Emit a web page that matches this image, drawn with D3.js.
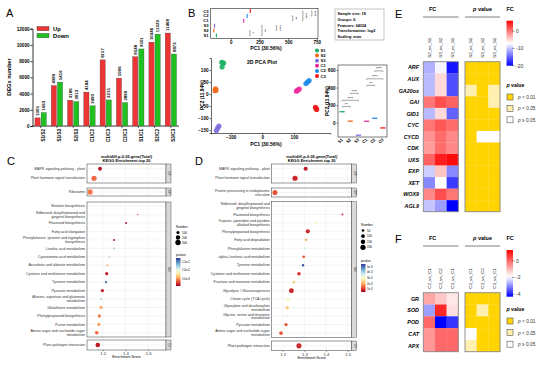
<!DOCTYPE html>
<html><head><meta charset="utf-8">
<script src="https://cdn.jsdelivr.net/npm/d3@7"></script>
<style>body{margin:0;background:#fff}svg{display:block;font-family:"Liberation Sans",Arial,sans-serif}</style>
</head><body><svg id="c" width="550" height="366"></svg>
<script>
// ================= DATA =================
// Panel A: DEG numbers
const degCategories = ["S1/S2","S1/S3","S2/S3","C1/C2","C1/C3","C2/C3","S1/C1","S2/C2","S3/C3"];
const degUp   = [1005,4989,3186,4184,8157,5906,8548,10346,11468];
const degDown = [1663,5416,3013,2490,3215,2889,9501,11329,8873];
const degTicks = [0,2000,4000,6000,8000,10000,12000];

// Panel B: PCA
const pcaGroups = ["S1","S2","S3","C1","C2","C3"];
const pcaPC1 = [[-128,-122,-127],[-148,-146,-149],[-137,-141,-145],[108,112,117],[138,143,148],[168,170,172]];
const pcaPC2 = [[132,129,113],[22,17,14],[-133,-142,-152],[12,16,21],[44,50,56],[-55,-60,-64]];
const pcaXTicks = [-100,0,100];
const pcaYTicks = [-150,-100,-50,0,50,100];
const pc1StripTicks = [0,250,500,750];
const pc2BoxTicks = [0,200,400,600];
const pc1Brackets = [ {a:"S1",b:"S2",lab:"*",at:168},{a:"S1",b:"S3",lab:"**",at:272},{a:"S2",b:"S3",lab:"****",at:400},
  {a:"C1",b:"C2",lab:"**",at:541},{a:"C1",b:"C3",lab:"****",at:628},{a:"C2",b:"C3",lab:"****",at:707} ];
const pc2Brackets = [ {a:"S1",b:"S2",lab:"**",at:185},{a:"S1",b:"S3",lab:"****",at:255},{a:"S2",b:"S3",lab:"****",at:335},
  {a:"C1",b:"C2",lab:"**",at:425},{a:"C1",b:"C3",lab:"****",at:500},{a:"C2",b:"C3",lab:"****",at:590} ];
const pcaInfo = ["Sample size: 18","Groups: 6","Features: 64324","Transformation: log2","Scaling: auto"];

// Panel C: KEGG enrichment
const enrC_terms = ["MAPK signaling pathway - plant","Plant hormone signal transduction","Ribosome",
 "Betalain biosynthesis","Stilbenoid, diarylheptanoid and\ngingerol biosynthesis","Flavonoid biosynthesis","Fatty acid elongation",
 "Phenylalanine, tyrosine and tryptophan\nbiosynthesis","Linoleic acid metabolism","Cyanoamino acid metabolism","Ascorbate and aldarate metabolism",
 "Cysteine and methionine metabolism","Tyrosine metabolism","Pyruvate metabolism","Alanine, aspartate and glutamate\nmetabolism",
 "Glutathione metabolism","Phenylpropanoid biosynthesis","Purine metabolism","Amino sugar and nucleotide sugar\nmetabolism","Plant-pathogen interaction"];
const enrC_panel = [0,0,1,2,2,2,2,2,2,2,2,2,2,2,2,2,2,2,2,3];
const enrC_score = [1.176,1.123,1.088,1.723,1.509,1.406,1.303,1.300,1.300,1.259,1.241,1.235,1.229,1.197,1.185,1.185,1.170,1.165,1.147,1.156];
const enrC_count = [150,280,300,8,20,40,30,45,35,40,50,110,45,110,60,90,120,120,140,220];
const enrC_p     = [0.0015,0.004,0.0045,0.0085,0.003,0.0015,0.009,0.0015,0.0125,0.0115,0.006,0.002,0.016,0.002,0.0115,0.0055,0.0045,0.0055,0.004,0.0018];
const enrC_strips = ["EIP","GIP","Met","OS"];
const enrC_ticks = [1.2,1.4,1.6];
const enrC_sizeLegend = [100,200,300];
const enrC_pTicks = [0.015,0.010,0.005];

// Panel D
const enrD_terms = ["MAPK signaling pathway - plant","Plant hormone signal transduction","Protein processing in endoplasmic\nreticulum",
 "Stilbenoid, diarylheptanoid and\ngingerol biosynthesis","Flavonoid biosynthesis","Tropane, piperidine and pyridine\nalkaloid biosynthesis",
 "Phenylpropanoid biosynthesis","Fatty acid degradation","Phenylalanine metabolism","alpha-Linolenic acid metabolism","Tyrosine metabolism",
 "Cysteine and methionine metabolism","Fructose and mannose metabolism","Glycolysis / Gluconeogenesis","Citrate cycle (TCA cycle)",
 "Glyoxylate and dicarboxylate\nmetabolism","Glycine, serine and threonine\nmetabolism","Pyruvate metabolism","Amino sugar and nucleotide sugar\nmetabolism","Plant-pathogen interaction"];
const enrD_panel = [0,0,1,2,2,2,2,2,2,2,2,2,2,2,2,2,2,2,2,3];
const enrD_score = [1.306,1.257,1.164,1.505,1.476,1.354,1.316,1.308,1.303,1.297,1.294,1.275,1.251,1.240,1.225,1.221,1.217,1.215,1.192,1.275];
const enrD_count = [120,200,190,10,25,30,130,45,40,55,40,90,60,180,55,80,45,80,100,190];
const enrD_p     = [0.0008,0.0009,0.0013,0.0032,0.0008,0.0029,0.0009,0.0020,0.0036,0.0013,0.0053,0.0010,0.0024,0.0009,0.0028,0.0023,0.0034,0.0013,0.0013,0.0009];
const enrD_strips = ["EIP","GIP","Met","OS"];
const enrD_ticks = [1.2,1.3,1.4,1.5];
const enrD_sizeLegend = [50,100,150,200];
const enrD_pTicks = [0.005,0.004,0.003,0.002,0.001];

// Panel E heatmap
const heatE_rows = ["ARF","AUX","GA20ox","GAI","GID1","CYC","CYCD","CDK","UXS","EXP","XET","WOX9","AGL9"];
const heatE_cols = ["S2_vs_S1","S3_vs_S2","S3_vs_S1"];
const heatE_fc = [[-11,-7.5,-19],[-10.5,-5,-16],[-10.5,-5,-16],[0,2,1],[-10.5,-5,-15],[0,1.5,0.5],[-1.5,0.5,-1],[-2,0.5,-1],[1,4.5,5.5],
  [-9.5,-4,-13],[-13,-7,-17],[-1,2,0],[-10,-12,-20]];
const heatE_p = [[0,0,0],[0,0,0],[1,0,1],[0,0,1],[0,0,0],[0,0,0],[0,2,2],[0,0,0],[0,0,0],[0,0,0],[0,0,0],[0,0,0],[0,0,0]];
const heatE_ticks = [0,-10,-20];

// Panel F heatmap
const heatF_rows = ["GR","SOD","POD","CAT","APX"];
const heatF_cols = ["C2_vs_C1","C3_vs_C2","C3_vs_C1"];
const heatF_fc = [[-0.8,-1.2,-1.6],[-2.8,0.8,-1.5],[0,-4.3,-3.8],[-0.6,0,0],[-0.6,0,0]];
const heatF_p = [[0,0,0],[0,1,0],[0,0,0],[2,0,0],[1,0,0]];
const heatF_ticks = [0,-2,-4];
const pLegendLabels = ["< 0.01","< 0.05","\u2265 0.05"];

// ================= STYLE =================
const upColor = "#ee3535", downColor = "#20c020";
const groupColors = ["#18b060","#f06818","#7a6ee0","#ee2a9a","#1e8ae8","#f01818"];
const pFill = ["#ffd400","#fff0b0","#ffffff"];

const svg = d3.select("#c");
svg.append("rect").attr("width",550).attr("height",366).attr("fill","#fff");

function letter(t,x,y){ svg.append("text").attr("x",x).attr("y",y).attr("font-size",11).text(t); }
letter("A",6,17); letter("B",188,17); letter("C",7,165); letter("D",195,165); letter("E",395,18); letter("F",395,243);

// ================= PANEL A =================
(function(){
  const g = svg.append("g");
  const x = d3.scaleBand().domain(degCategories).range([32.5,179]).paddingInner(0.3).paddingOuter(0.15);
  const xs = d3.scaleBand().domain(["Up","Down"]).range([0,x.bandwidth()]).paddingInner(0.15);
  const y = d3.scaleLinear().domain([0,12000]).range([126,28.7]);
  const rows = degCategories.map((c,i)=>({c, Up:degUp[i], Down:degDown[i]}));
  const ga = g.append("g").attr("transform","translate(32.5,0)")
    .call(d3.axisLeft(y).tickValues(degTicks).tickSize(2).tickPadding(1).tickFormat(d3.format("d")));
  ga.selectAll("text").attr("font-size",4.6).attr("font-weight","bold");
  ga.selectAll("path,line").attr("stroke-width",0.8);
  const gx = g.append("g").attr("transform","translate(0,126)")
    .call(d3.axisBottom(x).tickSize(2).tickPadding(1));
  gx.select(".domain").attr("d","M32.5,0H179").attr("stroke-width",0.8);
  gx.selectAll("line").attr("stroke-width",0.6);
  gx.selectAll("text").attr("font-size",4.6).attr("font-weight","bold")
    .attr("transform","rotate(-90)").attr("text-anchor","end").attr("dx",-3).attr("dy",1.5);
  ["Up","Down"].forEach(k=>{
    g.selectAll(null).data(rows).join("rect")
      .attr("x",d=>x(d.c)+xs(k)).attr("y",d=>y(d[k])).attr("width",xs.bandwidth())
      .attr("height",d=>126-y(d[k])).attr("fill",k==="Up"?upColor:downColor)
      .attr("stroke","#444").attr("stroke-width",0.3);
    g.selectAll(null).data(rows).join("text")
      .attr("transform",d=>`translate(${x(d.c)+xs(k)+xs.bandwidth()/2+1.6},${y(d[k])-2}) rotate(-90)`)
      .attr("font-size",4.4).attr("font-weight","bold").text(d=>d[k]);
  });
  g.append("text").attr("transform","translate(11,77) rotate(-90)").attr("text-anchor","middle")
    .attr("font-size",5.6).attr("font-weight","bold").text("DEGs number");
  [["Up",upColor,26.5],["Down",downColor,33.5]].forEach(([t,c,yy])=>{
    g.append("rect").attr("x",37).attr("y",yy).attr("width",12).attr("height",4.2).attr("fill",c).attr("stroke","#333").attr("stroke-width",0.4);
    g.append("text").attr("x",53).attr("y",yy+4.2).attr("font-size",5.8).attr("font-weight","bold").text(t);
  });
})();

// ================= PANEL B =================
const means1 = pcaPC1.map(a=>d3.mean(a)), means2 = pcaPC2.map(a=>d3.mean(a));
(function(){
  // top PC1 strip
  const g = svg.append("g");
  const x = d3.scaleLinear().domain([-175,760]).range([210.7,318]);
  const y = d3.scalePoint().domain(pcaGroups.slice().reverse()).range([11,35.5]);
  g.append("rect").attr("x",210.7).attr("y",8.5).attr("width",107.3).attr("height",30).attr("fill","none").attr("stroke","#222").attr("stroke-width",0.6);
  const ax = g.append("g").attr("transform","translate(0,38.5)").call(d3.axisBottom(x).tickValues(pc1StripTicks).tickSize(1.5).tickPadding(1));
  ax.select(".domain").remove();
  ax.selectAll("text").attr("font-size",4.5).attr("font-weight","bold");
  ax.selectAll("line").attr("stroke-width",0.5);
  g.selectAll(null).data(pcaGroups).join("text").attr("x",208.5).attr("y",d=>y(d)+1.5).attr("text-anchor","end")
    .attr("font-size",4.2).attr("font-weight","bold").text(d=>d);
  g.selectAll(null).data(pcaGroups).join("line").attr("x1",(d,i)=>x(means1[i])).attr("x2",(d,i)=>x(means1[i]))
    .attr("y1",d=>y(d)-2).attr("y2",d=>y(d)+2).attr("stroke",(d,i)=>groupColors[i]).attr("stroke-width",1.1);
  pc1Brackets.forEach(b=>{
    const xx=x(b.at), y1=y(b.a), y2=y(b.b);
    g.append("path").attr("d",`M${xx-1},${y1}H${xx}V${y2}H${xx-1}`).attr("fill","none").attr("stroke","#222").attr("stroke-width",0.4);
    g.append("text").attr("transform",`translate(${xx+1.2},${(y1+y2)/2}) rotate(90)`).attr("text-anchor","middle")
      .attr("font-size",3.6).text(b.lab);
  });
  g.append("text").attr("x",266).attr("y",50).attr("text-anchor","middle").attr("font-size",5).attr("font-weight","bold").text("PC1 (30.56%)");
  // info box
  g.append("rect").attr("x",335).attr("y",9).attr("width",49).attr("height",31).attr("fill","#fff").attr("stroke","#888").attr("stroke-width",0.5);
  pcaInfo.forEach((t,i)=>g.append("text").attr("x",337.5).attr("y",15+i*5.8).attr("font-size",3.8).attr("font-weight","bold").text(t));
})();
(function(){
  // scatter
  const g = svg.append("g");
  const x = d3.scaleLinear().domain([-162,215]).range([211,330.3]);
  const y = d3.scaleLinear().domain([-162,150]).range([133,58]);
  const ay = g.append("g").attr("transform","translate(211,0)").call(d3.axisLeft(y).tickValues(pcaYTicks).tickSize(1.5).tickPadding(1));
  ay.selectAll("text").attr("font-size",4.6).attr("font-weight","bold");
  ay.selectAll("path,line").attr("stroke-width",0.6);
  const ax = g.append("g").attr("transform","translate(0,133)").call(d3.axisBottom(x).tickValues(pcaXTicks).tickSize(1.5).tickPadding(1));
  ax.selectAll("text").attr("font-size",4.6).attr("font-weight","bold");
  ax.selectAll("path,line").attr("stroke-width",0.6);
  pcaGroups.forEach((gname,i)=>{
    pcaPC1[i].forEach((v,j)=>{
      g.append("circle").attr("cx",x(v)).attr("cy",y(pcaPC2[i][j])).attr("r",2.6).attr("fill",groupColors[i]).attr("fill-opacity",0.9);
    });
  });
  g.append("text").attr("x",262).attr("y",64).attr("text-anchor","middle").attr("font-size",5.2).attr("font-weight","bold").text("2D PCA Plot");
  g.append("text").attr("transform","translate(203.5,95) rotate(-90)").attr("text-anchor","middle").attr("font-size",4.8).attr("font-weight","bold").text("PC2 (11.84%)");
  g.append("text").attr("x",266).attr("y",146).attr("text-anchor","middle").attr("font-size",5).attr("font-weight","bold").text("PC1 (30.56%)");
  pcaGroups.forEach((gname,i)=>{
    g.append("circle").attr("cx",317).attr("cy",50.5+i*5.1).attr("r",2).attr("fill",groupColors[i]);
    g.append("text").attr("x",320.5).attr("y",52+i*5.1).attr("font-size",4.2).attr("font-weight","bold").text(gname);
  });
})();
(function(){
  // PC2 box plot
  const g = svg.append("g");
  const x = d3.scaleBand().domain(pcaGroups).range([338,387]);
  const y = d3.scaleLinear().domain([-163,657]).range([137,65]);
  g.append("rect").attr("x",338).attr("y",65).attr("width",49).attr("height",72).attr("fill","none").attr("stroke","#222").attr("stroke-width",0.6);
  const ay = g.append("g").attr("transform","translate(338,0)").call(d3.axisLeft(y).tickValues(pc2BoxTicks).tickSize(1.5).tickPadding(1));
  ay.select(".domain").remove();
  ay.selectAll("text").attr("font-size",4.6).attr("font-weight","bold");
  ay.selectAll("line").attr("stroke-width",0.5);
  g.selectAll(null).data(pcaGroups).join("line").attr("x1",d=>x(d)+1.5).attr("x2",d=>x(d)+x.bandwidth()-1.5)
    .attr("y1",(d,i)=>y(means2[i])).attr("y2",(d,i)=>y(means2[i])).attr("stroke",(d,i)=>groupColors[i]).attr("stroke-width",1.3);
  pc2Brackets.forEach(b=>{
    const yy=y(b.at), x1=x(b.a)+x.bandwidth()/2, x2=x(b.b)+x.bandwidth()/2;
    g.append("path").attr("d",`M${x1},${yy+1}V${yy}H${x2}V${yy+1}`).attr("fill","none").attr("stroke","#222").attr("stroke-width",0.4);
    g.append("text").attr("x",(x1+x2)/2).attr("y",yy-0.6).attr("text-anchor","middle").attr("font-size",3.6).text(b.lab);
  });
  g.selectAll(null).data(pcaGroups).join("text")
    .attr("transform",d=>`translate(${x(d)+x.bandwidth()/2+1},${140}) rotate(-45)`).attr("text-anchor","end")
    .attr("font-size",4.2).attr("font-weight","bold").text(d=>d);
  g.append("text").attr("transform","translate(328.5,101) rotate(-90)").attr("text-anchor","middle").attr("font-size",4.8).attr("font-weight","bold").text("PC2 (11.84%)");
})();

// ================= PANELS C & D =================
function drawEnrich(cfg){
  const g = svg.append("g");
  const x = d3.scaleLinear().domain(cfg.xDomain).range([cfg.x0,cfg.x1]);
  const col = d3.scaleSequential(d3.interpolateRdYlBu).domain(cfg.pDomain);
  const rad = d3.scaleSqrt().domain([0,cfg.maxN]).range([0,2.8]);
  cfg.panels.forEach((p,pi)=>{
    const idx = cfg.terms.map((t,i)=>i).filter(i=>cfg.panel[i]===pi);
    const y = d3.scalePoint().domain(idx).range([p[0],p[1]]).padding(0.5);
    g.append("rect").attr("x",cfg.x0).attr("y",p[0]).attr("width",cfg.x1-cfg.x0).attr("height",p[1]-p[0]).attr("fill","#fff");
    cfg.ticks.forEach(t=>g.append("line").attr("x1",x(t)).attr("x2",x(t)).attr("y1",p[0]).attr("y2",p[1]).attr("stroke","#e6e6e6").attr("stroke-width",0.4));
    idx.forEach(i=>g.append("line").attr("x1",cfg.x0).attr("x2",cfg.x1).attr("y1",y(i)).attr("y2",y(i)).attr("stroke","#e6e6e6").attr("stroke-width",0.4));
    g.append("rect").attr("x",cfg.x0).attr("y",p[0]).attr("width",cfg.x1-cfg.x0).attr("height",p[1]-p[0]).attr("fill","none").attr("stroke","#333").attr("stroke-width",0.5);
    g.append("rect").attr("x",cfg.x1).attr("y",p[0]).attr("width",5).attr("height",p[1]-p[0]).attr("fill","#d9d9d9").attr("stroke","#333").attr("stroke-width",0.4);
    g.append("text").attr("transform",`translate(${cfg.x1+1.8},${(p[0]+p[1])/2}) rotate(90)`).attr("text-anchor","middle").attr("font-size",2.6).attr("fill","#333").text(cfg.strips[pi]);
    idx.forEach(i=>{
      g.append("circle").attr("cx",x(cfg.score[i])).attr("cy",y(i)).attr("r",rad(cfg.count[i])).attr("fill",col(cfg.p[i]));
      const lines = cfg.terms[i].split("\n");
      const t = g.append("text").attr("x",cfg.x0-2).attr("y",y(i)+1.2-(lines.length-1)*1.8).attr("text-anchor","end").attr("font-size",3.6).attr("fill","#333");
      lines.forEach((l,k)=>t.append("tspan").attr("x",cfg.x0-2).attr("dy",k?3.6:0).text(l));
    });
  });
  const last = cfg.panels[cfg.panels.length-1][1];
  const ax = g.append("g").attr("transform",`translate(0,${last})`).call(d3.axisBottom(x).tickValues(cfg.ticks).tickSize(1.2).tickPadding(0.8).tickFormat(d3.format(".1f")));
  ax.select(".domain").remove();
  ax.selectAll("text").attr("font-size",4.2).attr("fill","#333");
  ax.selectAll("line").attr("stroke-width",0.4);
  const cx=(cfg.x0+cfg.x1)/2;
  g.append("text").attr("x",cx).attr("y",last+8).attr("text-anchor","middle").attr("font-size",3.6).text("Enrichment Score");
  g.append("text").attr("x",cx).attr("y",157.5).attr("text-anchor","middle").attr("font-size",4).attr("font-weight","bold").text("multidiff-p-0.05.gene(Total)");
  g.append("text").attr("x",cx).attr("y",162).attr("text-anchor","middle").attr("font-size",4).attr("font-weight","bold").text("KEGG Enrichment top 20");
  // legends
  const lx = cfg.legX;
  g.append("text").attr("x",lx).attr("y",cfg.numY).attr("font-size",3.3).text("Number");
  cfg.sizeLegend.forEach((n,k)=>{
    const yy = cfg.numY+4.5+k*cfg.numStep;
    g.append("circle").attr("cx",lx+2).attr("cy",yy).attr("r",rad(n)).attr("fill","#000");
    g.append("text").attr("x",lx+6).attr("y",yy+1.1).attr("font-size",3).text(n);
  });
  g.append("text").attr("x",lx).attr("y",cfg.pY).attr("font-size",3.3).text("pvalue");
  const gid = "grad"+cfg.id;
  const grad = svg.append("defs").append("linearGradient").attr("id",gid).attr("x1",0).attr("y1",0).attr("x2",0).attr("y2",1);
  d3.range(0,1.0001,0.1).forEach(f=>grad.append("stop").attr("offset",f).attr("stop-color",col(cfg.pDomain[1]-f*(cfg.pDomain[1]-cfg.pDomain[0]))));
  const cy0 = cfg.pY+2.5, ch = 28;
  g.append("rect").attr("x",lx).attr("y",cy0).attr("width",4.5).attr("height",ch).attr("fill",`url(#${gid})`);
  const py = d3.scaleLinear().domain([cfg.pDomain[1],cfg.pDomain[0]]).range([cy0,cy0+ch]);
  cfg.pTicks.forEach(t=>{
    g.append("text").attr("x",lx+6).attr("y",py(t)+1).attr("font-size",2.8).text(cfg.pFmt(t));
  });
}
drawEnrich({id:"C",terms:enrC_terms,panel:enrC_panel,score:enrC_score,count:enrC_count,p:enrC_p,strips:enrC_strips,
  ticks:enrC_ticks,xDomain:[1.061,1.758],x0:87,x1:166,panels:[[164,183],[188,196],[202,337],[340,350]],
  pDomain:[0.001,0.017],maxN:330,legX:176,numY:228,numStep:5,sizeLegend:enrC_sizeLegend,pY:255.5,pTicks:enrC_pTicks,pFmt:d=>d.toExponential(1)});
drawEnrich({id:"D",terms:enrD_terms,panel:enrD_panel,score:enrD_score,count:enrD_count,p:enrD_p,strips:enrD_strips,
  ticks:enrD_ticks,xDomain:[1.149,1.519],x0:271.7,x1:351.7,panels:[[164,183],[188,197],[201.7,337.3],[341,350.7]],
  pDomain:[0.0005,0.0055],maxN:230,legX:361,numY:226,numStep:5.6,sizeLegend:enrD_sizeLegend,pY:261.5,pTicks:enrD_pTicks,pFmt:d=>d.toExponential(0)});

// ================= PANELS E & F =================
function drawHeat(cfg){
  const g = svg.append("g");
  const fc = d3.scaleLinear().domain(cfg.fcDomain).range(["#0000ff","#ffffff","#ff0000"]).clamp(true);
  const xF = d3.scaleBand().domain(cfg.cols).range([423.3,458.3]);
  const xP = d3.scaleBand().domain(cfg.cols).range([465,500]);
  const y = d3.scaleBand().domain(cfg.rows).range([cfg.y0,cfg.y1]);
  // headers
  g.append("text").attr("x",429).attr("y",cfg.hY).attr("font-size",5.5).attr("font-weight","bold").text("FC");
  const pv = g.append("text").attr("x",482.5).attr("y",cfg.hY).attr("text-anchor","middle").attr("font-size",5.5).attr("font-weight","bold");
  pv.append("tspan").attr("font-style","italic").text("p"); pv.append("tspan").text(" value");
  g.append("line").attr("x1",423).attr("x2",458.5).attr("y1",cfg.hY+6).attr("y2",cfg.hY+6).attr("stroke","#aaa").attr("stroke-width",1.5);
  g.append("line").attr("x1",465).attr("x2",500).attr("y1",cfg.hY+6).attr("y2",cfg.hY+6).attr("stroke","#aaa").attr("stroke-width",1.5);
  [xF,xP].forEach(xs=>cfg.cols.forEach(c=>g.append("text")
    .attr("transform",`translate(${xs(c)+xs.bandwidth()/2+1.5},${cfg.y0-4}) rotate(-90)`).attr("font-size",4.4).attr("fill","#222").text(c)));
  cfg.rows.forEach((r,i)=>{
    g.append("text").attr("x",419).attr("y",y(r)+y.bandwidth()/2+2).attr("text-anchor","end").attr("font-size",5.4)
      .attr("font-weight","bold").attr("font-style","italic").text(r);
    cfg.cols.forEach((c,j)=>{
      g.append("rect").attr("x",xF(c)).attr("y",y(r)).attr("width",xF.bandwidth()+0.2).attr("height",y.bandwidth()+0.2).attr("fill",fc(cfg.fc[i][j]));
      g.append("rect").attr("x",xP(c)).attr("y",y(r)).attr("width",xP.bandwidth()+0.2).attr("height",y.bandwidth()+0.2).attr("fill",pFill[cfg.p[i][j]]);
    });
  });
  [423.3,465].forEach(x0=>g.append("rect").attr("x",x0).attr("y",cfg.y0).attr("width",35).attr("height",cfg.y1-cfg.y0).attr("fill","none").attr("stroke","#888").attr("stroke-width",0.9));
  // FC colorbar
  g.append("text").attr("x",506.5).attr("y",cfg.hY).attr("font-size",5.5).attr("font-weight","bold").text("FC");
  const gid="hg"+cfg.id;
  const grad = svg.append("defs").append("linearGradient").attr("id",gid).attr("x1",0).attr("y1",0).attr("x2",0).attr("y2",1);
  const cb = d3.scaleLinear().domain([cfg.fcDomain[2],cfg.fcDomain[0]]).range([cfg.cbY0,cfg.cbY1]);
  d3.range(0,1.0001,0.05).forEach(f=>grad.append("stop").attr("offset",f).attr("stop-color",fc(cfg.fcDomain[2]-f*(cfg.fcDomain[2]-cfg.fcDomain[0]))));
  g.append("rect").attr("x",506.5).attr("y",cfg.cbY0).attr("width",6.5).attr("height",cfg.cbY1-cfg.cbY0).attr("fill",`url(#${gid})`);
  cfg.ticks.forEach(t=>{
    g.append("line").attr("x1",512).attr("x2",514.5).attr("y1",cb(t)).attr("y2",cb(t)).attr("stroke","#333").attr("stroke-width",0.5);
    g.append("text").attr("x",516).attr("y",cb(t)+1.8).attr("font-size",5).attr("fill","#333").text(t);
  });
  // p legend
  const pt = g.append("text").attr("x",506.5).attr("y",cfg.pLegY).attr("font-size",5.2).attr("font-weight","bold");
  pt.append("tspan").attr("font-style","italic").text("p"); pt.append("tspan").text(" value");
  pLegendLabels.forEach((l,k)=>{
    const yy = cfg.pLegY+7+k*cfg.pStep;
    g.append("rect").attr("x",507).attr("y",yy).attr("width",6).attr("height",6).attr("fill",pFill[k]).attr("stroke","#555").attr("stroke-width",0.6);
    const t = g.append("text").attr("x",518).attr("y",yy+5).attr("font-size",4.8).attr("fill","#333");
    t.append("tspan").attr("font-style","italic").text("p"); t.append("tspan").text(" "+l);
  });
}
drawHeat({id:"E",rows:heatE_rows,cols:heatE_cols,fc:heatE_fc,p:heatE_p,ticks:heatE_ticks,fcDomain:[-20,-7,6],
  y0:61.7,y1:211.7,hY:11,cbY0:20.7,cbY1:65.7,pLegY:87,pStep:11.4});
drawHeat({id:"F",rows:heatF_rows,cols:heatF_cols,fc:heatF_fc,p:heatF_p,ticks:heatF_ticks,fcDomain:[-4.3,-1.9,1.3],
  y0:292.7,y1:351.7,hY:240,cbY0:250,cbY1:296.7,pLegY:311,pStep:11.6});
</script></body></html>
